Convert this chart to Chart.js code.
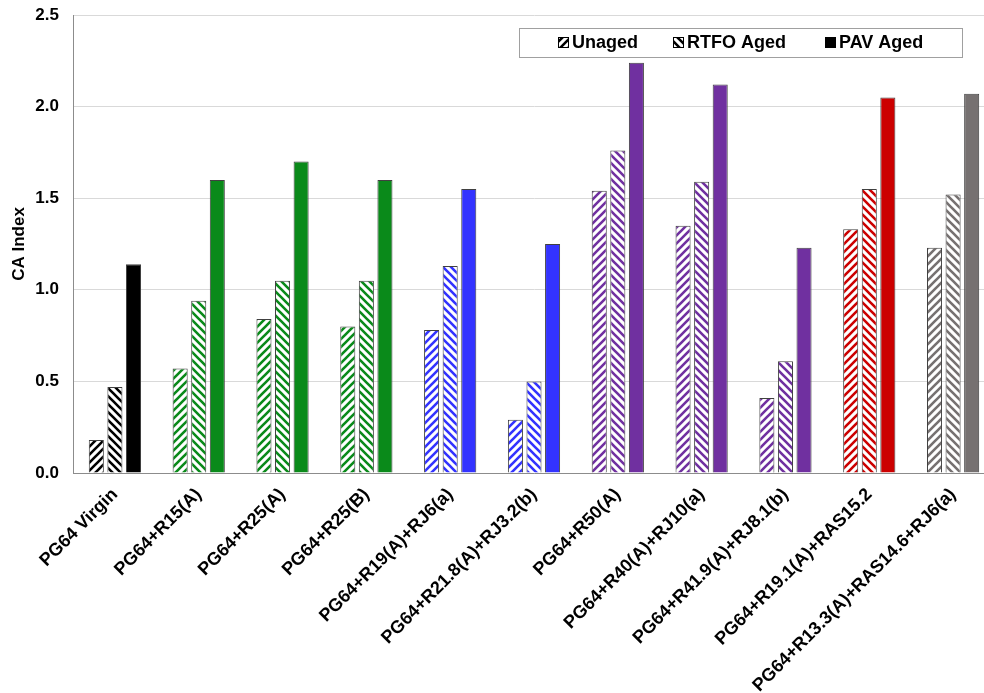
<!DOCTYPE html>
<html>
<head>
<meta charset="utf-8">
<script src="https://cdn.jsdelivr.net/npm/chart.js@4"></script>
<style>
  html, body { margin: 0; padding: 0; background: #fff; overflow: hidden; }
  /* plot runs slightly past the right edge of the window, as in the source */
  #wrap { width: 995px; height: 693px; position: relative; }
</style>
</head>
<body>
<div id="wrap"><canvas id="caChart"></canvas></div>
<script>
// blends on the x axis
var categories = [
    'PG64 Virgin', 'PG64+R15(A)', 'PG64+R25(A)', 'PG64+R25(B)',
    'PG64+R19(A)+RJ6(a)', 'PG64+R21.8(A)+RJ3.2(b)', 'PG64+R50(A)',
    'PG64+R40(A)+RJ10(a)', 'PG64+R41.9(A)+RJ8.1(b)', 'PG64+R19.1(A)+RAS15.2',
    'PG64+R13.3(A)+RAS14.6+RJ6(a)'
];
var seriesNames = ['Unaged', 'RTFO Aged', 'PAV Aged'];
var unaged   = [0.18, 0.57, 0.84, 0.80, 0.78, 0.29, 1.54, 1.35, 0.41, 1.33, 1.23];
var rtfoAged = [0.47, 0.94, 1.05, 1.05, 1.13, 0.50, 1.76, 1.59, 0.61, 1.55, 1.52];
var pavAged  = [1.14, 1.60, 1.70, 1.60, 1.55, 1.25, 2.24, 2.12, 1.23, 2.05, 2.07];
var yTicks = [0, 0.5, 1.0, 1.5, 2.0, 2.5];

// one colour per blend group
var groupColors = ['#000000', '#0a8a1a', '#0a8a1a', '#0a8a1a', '#3333ff', '#3333ff',
                   '#7030a0', '#7030a0', '#7030a0', '#cc0000', '#767171'];

var FONT = '"Liberation Sans", Arial, sans-serif';

// diagonal stripe pattern, dir 1 = "/", -1 = "\"
function stripe(color, dir) {
    var s = 8;
    var c = document.createElement('canvas');
    c.width = s; c.height = s;
    var g = c.getContext('2d');
    g.fillStyle = '#fff';
    g.fillRect(0, 0, s, s);
    g.strokeStyle = color;
    g.lineWidth = 2.6;
    g.beginPath();
    if (dir > 0) {
        g.moveTo(-1, s + 1); g.lineTo(s + 1, -1);
        g.moveTo(-1, 1); g.lineTo(1, -1);
        g.moveTo(s - 1, s + 1); g.lineTo(s + 1, s - 1);
    } else {
        g.moveTo(-1, -1); g.lineTo(s + 1, s + 1);
        g.moveTo(s - 1, -1); g.lineTo(s + 1, 1);
        g.moveTo(-1, s - 1); g.lineTo(1, s + 1);
    }
    g.stroke();
    return g.createPattern(c, 'repeat');
}

var ctx = document.getElementById('caChart').getContext('2d');

var fills = [
    groupColors.map(function (c) { return stripe(c, 1); }),
    groupColors.map(function (c) { return stripe(c, -1); }),
    groupColors.slice()
];
var legendFills = [stripe('#000', 1), stripe('#000', -1), '#000'];

// boxed legend inside the plot, top right
var boxLegend = {
    id: 'boxLegend',
    afterDraw: function (chart) {
        var g = chart.ctx;
        var x0 = 519, y0 = 28, w = 443, h = 29;
        g.save();
        g.fillStyle = '#fff';
        g.fillRect(x0, y0, w, h);
        g.strokeStyle = '#a0a0a0';
        g.lineWidth = 1;
        g.strokeRect(x0 + 0.5, y0 + 0.5, w, h);
        g.font = 'bold 18px ' + FONT;
        g.textBaseline = 'middle';
        var xs = [558, 673, 825];
        for (var i = 0; i < seriesNames.length; i++) {
            g.fillStyle = legendFills[i];
            g.fillRect(xs[i], y0 + 9, 11, 11);
            g.strokeStyle = '#000';
            g.strokeRect(xs[i] + 0.5, y0 + 9.5, 10, 10);
            g.fillStyle = '#000';
            g.fillText(seriesNames[i], xs[i] + 14, y0 + 15);
        }
        g.restore();
    }
};

var caChart = new Chart(ctx, {
    type: 'bar',
    data: {
        labels: categories,
        datasets: [unaged, rtfoAged, pavAged].map(function (vals, i) {
            return {
                label: seriesNames[i],
                data: vals,
                backgroundColor: fills[i],
                borderColor: '#404040',
                borderWidth: 1,
                categoryPercentage: 0.665,
                barPercentage: 0.81
            };
        })
    },
    options: {
        responsive: true,
        maintainAspectRatio: false,
        animation: false,
        layout: { padding: { top: 15, right: 0, left: 4, bottom: 0 } },
        scales: {
            x: {
                grid: { display: false, drawTicks: false },
                border: { color: '#8c8c8c' },
                afterFit: function (axis) { axis.height = 220; },
                ticks: {
                    color: '#000',
                    font: { family: FONT, size: 18, weight: 'bold' },
                    maxRotation: 45, minRotation: 45, autoSkip: false, padding: 11
                }
            },
            y: {
                min: 0, max: 2.5,
                afterBuildTicks: function (axis) {
                    axis.ticks = yTicks.map(function (v) { return { value: v }; });
                },
                afterFit: function (axis) {
                    axis.width = 69;
                    axis.paddingTop = 0;
                    axis.paddingBottom = 0;
                },
                grid: { color: '#d9d9d9', drawTicks: false },
                border: { color: '#8c8c8c' },
                ticks: {
                    color: '#000',
                    padding: 14,
                    font: { family: FONT, size: 17, weight: 'bold' },
                    callback: function (v) { return Number(v).toFixed(1); }
                },
                title: {
                    display: true, text: 'CA Index', color: '#000',
                    font: { family: FONT, size: 17, weight: 'bold' },
                    padding: { top: 5, bottom: 0 }
                }
            }
        },
        plugins: {
            legend: { display: false },
            tooltip: { enabled: false }
        }
    },
    plugins: [boxLegend]
});
</script>
</body>
</html>
